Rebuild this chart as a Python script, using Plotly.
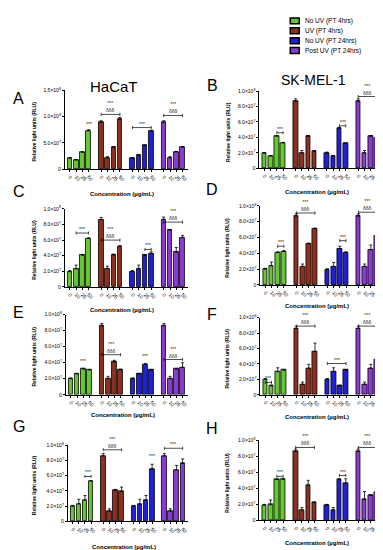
import plotly.graph_objects as go

W, H = 383, 550

series_names = ["No UV (PT 4hrs)", "UV (PT 4hrs)", "No UV (PT 24hrs)", "Post UV (PT 24hrs)"]
colors = ["#66c633", "#8e3020", "#2020d8", "#8a3cd0"]
conc_labels = ["0", "10", "25", "50"]

# values in units of 1e7 RLU; one list per group (4 concentrations each)
A_vals = [[2.1, 1.75, 3.2, 7.3], [8.9, 2.2, 4.2, 9.5], [2.1, 2.7, 4.5, 7.3], [8.9, 2.2, 3.3, 4.2]]
A_err = [[0.1, 0.1, 0.1, 0.2], [0.3, 0.2, 0.1, 0.3], [0.1, 0.1, 0.1, 0.1], [0.3, 0.2, 0.1, 0.1]]
B_vals = [[1.95, 1.6, 4.15, 3.3], [8.7, 2.0, 4.15, 2.2], [2.0, 1.6, 5.2, 3.2], [8.7, 2.0, 4.15, 3.9]]
B_err = [[0.1, 0.05, 0.1, 0.05], [0.3, 0.3, 0.1, 0.05], [0.1, 0.05, 0.1, 0.05], [0.3, 0.3, 0.1, 1.0]]
C_vals = [[1.95, 2.3, 4.05, 6.2], [8.6, 2.35, 4.1, 5.2], [1.95, 2.3, 4.05, 4.3], [8.65, 7.25, 4.45, 6.3]]
C_err = [[0.15, 0.5, 0.1, 0.1], [0.3, 0.3, 0.1, 0.1], [0.15, 0.5, 0.1, 0.2], [0.3, 0.1, 0.6, 0.3]]
D_vals = [[2.0, 2.4, 4.1, 4.25], [8.7, 2.35, 5.2, 7.1], [1.96, 2.35, 4.6, 4.1], [8.7, 2.35, 4.45, 6.25]]
D_err = [[0.1, 0.5, 0.1, 0.1], [0.3, 0.3, 0.1, 0.1], [0.1, 0.5, 0.3, 0.1], [0.3, 0.3, 0.6, 0.05]]
E_vals = [[2.0, 2.6, 3.2, 3.1], [8.6, 2.0, 4.1, 3.1], [2.0, 2.6, 3.8, 3.1], [8.6, 2.0, 3.2, 3.4]]
E_err = [[0.1, 0.05, 0.1, 0.05], [0.3, 0.3, 0.2, 0.1], [0.1, 0.05, 0.1, 0.05], [0.3, 0.3, 0.1, 0.6]]
F_vals = [[2.0, 1.15, 3.0, 3.2], [8.6, 1.35, 3.45, 5.6], [2.0, 3.0, 1.15, 3.2], [8.6, 1.35, 3.45, 4.6]]
F_err = [[0.1, 0.1, 0.5, 0.05], [0.3, 0.3, 0.5, 1.1], [0.1, 0.5, 0.1, 0.05], [0.3, 0.3, 0.5, 1.1]]
G_vals = [[2.0, 2.3, 2.8, 5.3], [8.6, 1.35, 4.1, 3.9], [2.0, 2.3, 2.8, 6.9], [8.6, 1.35, 6.75, 7.6]]
G_err = [[0.1, 0.6, 0.6, 0.05], [0.3, 0.3, 0.1, 0.6], [0.1, 0.6, 0.6, 0.6], [0.3, 0.3, 0.6, 0.6]]
H_vals = [[1.9, 1.95, 5.1, 5.15], [8.6, 1.3, 4.4, 2.2], [1.9, 1.3, 5.1, 4.6], [8.6, 2.6, 3.1, 3.55]]
H_err = [[0.1, 0.6, 0.05, 0.05], [0.3, 0.3, 0.6, 0.05], [0.1, 0.3, 0.05, 0.6], [0.3, 1.0, 0.1, 0.5]]

# significance marks: (group, first bar, last bar, y level, labels)  bracket if first != last
A_sig = [(0, 3, 3, 7.8, "***"), (1, 0, 3, 10.4, "***|δδδ"), (2, 0, 3, 7.9, "***"), (3, 0, 3, 10.2, "***|δδδ")]
B_sig = [(0, 2, 3, 4.6, "***"), (2, 2, 3, 5.5, "***"), (3, 0, 3, 9.3, "***|δδδ")]
C_sig = [(0, 1, 3, 6.9, "***"), (1, 0, 3, 6.0, "***|δδδ"), (2, 2, 3, 4.8, "***"), (3, 0, 3, 8.3, "***|δδδ")]
D_sig = [(0, 2, 3, 4.9, "***"), (1, 0, 3, 9.1, "***|δδδ"), (2, 2, 3, 5.6, "***"), (3, 0, 3, 9.2, "***|δδδ")]
E_sig = [(0, 2, 2, 3.7, "***"), (1, 0, 3, 5.0, "***|δδδ"), (2, 2, 2, 4.3, "***"), (3, 0, 3, 4.4, "***|δδδ")]
F_sig = [(0, 0, 1, 1.6, "***"), (1, 0, 3, 8.9, "***|δδδ"), (2, 0, 3, 4.05, "***"), (3, 0, 3, 8.9, "***|δδδ")]
G_sig = [(0, 2, 3, 5.9, "***"), (1, 0, 3, 9.4, "***|δδδ"), (2, 3, 3, 8.0, "***"), (3, 0, 3, 9.6, "***")]
H_sig = [(0, 2, 3, 5.5, "***"), (1, 0, 3, 9.1, "***|δδδ"), (2, 2, 3, 5.6, "***"), (3, 0, 3, 9.1, "***|δδδ")]

A_ticks = [0, 5, 10, 15]
A_ticktext = ["0", "5.0×10<sup>7</sup>", "1.0×10<sup>8</sup>", "1.5×10<sup>8</sup>"]
std_ticks = [0, 2, 4, 6, 8, 10]
std_ticktext = ["0", "2.0×10<sup>7</sup>", "4.0×10<sup>7</sup>", "6.0×10<sup>7</sup>",
                "8.0×10<sup>7</sup>", "1.0×10<sup>8</sup>"]

FONT = "Arial, Liberation Sans, sans-serif"

# panel boxes in pixels: x0, x1, ytop, ybottom ; x-title y
panels = [
    ("A", A_vals, A_err, A_sig, (57, 180, 80, 160), A_ticks, A_ticktext, 15, 185),
    ("B", B_vals, B_err, B_sig, (252, 375, 81, 159), std_ticks, std_ticktext, 10, 183),
    ("C", C_vals, C_err, C_sig, (57, 180, 200, 279), std_ticks, std_ticktext, 10, 302),
    ("D", D_vals, D_err, D_sig, (253, 375, 197, 277), std_ticks, std_ticktext, 10, 298),
    ("E", E_vals, E_err, E_sig, (58, 180, 307, 388), std_ticks, std_ticktext, 10, 408),
    ("F", F_vals, F_err, F_sig, (253, 375, 310, 388), std_ticks, std_ticktext, 10, 410),
    ("G", G_vals, G_err, G_sig, (60, 180, 439, 516), std_ticks, std_ticktext, 10, 542),
    ("H", H_vals, H_err, H_sig, (252, 375, 434, 515), std_ticks, std_ticktext, 10, 538),
]
letter_pos = {"A": (11, 88), "B": (205, 75), "C": (11, 182), "D": (205, 180),
              "E": (11, 305), "F": (205, 307), "G": (11, 420), "H": (205, 422)}

fig = go.Figure()
annotations = []
shapes = []
layout = {}


def px_x(p):
    return p / W


def px_y(p):
    return 1 - p / H


for k, (letter, vals, errs, sigs, box, ticks, ticktext, ymax, xt_y) in enumerate(panels):
    idx = "" if k == 0 else str(k + 1)
    xa, ya = "x" + idx, "y" + idx
    x0, x1, yt, yb = box
    tickvals, tlabels = [], []
    for g in range(4):
        xs = [g * 5 + i for i in range(4)]
        tickvals += xs
        tlabels += conc_labels
        fig.add_trace(go.Bar(
            x=xs, y=vals[g], width=0.74, xaxis=xa, yaxis=ya,
            marker=dict(color=colors[g], line=dict(color="black", width=0.8)),
            error_y=dict(type="data", array=errs[g], symmetric=False, arrayminus=[0] * 4,
                         color="black", thickness=0.8, width=1.5),
            name=series_names[g], showlegend=False))
    layout["xaxis" + idx] = dict(
        domain=[px_x(x0), px_x(x1)], anchor=ya, range=[-0.8, 18.8],
        tickvals=tickvals, ticktext=tlabels, tickangle=45,
        tickfont=dict(size=5, family=FONT, color="black"),
        showline=True, linecolor="black", linewidth=1, ticks="outside", ticklen=2,
        tickwidth=0.8, tickcolor="black", showgrid=False, zeroline=False, fixedrange=True)
    layout["yaxis" + idx] = dict(
        domain=[px_y(yb), px_y(yt)], anchor=xa, range=[0, ymax],
        tickvals=ticks, ticktext=ticktext,
        tickfont=dict(size=5, family=FONT, color="black"),
        showline=True, linecolor="black", linewidth=1, ticks="outside", ticklen=2,
        tickwidth=0.8, tickcolor="black", showgrid=False, zeroline=False, fixedrange=True)
    # significance brackets and stars
    for (g, b0, b1, yl, lab) in sigs:
        xa0, xa1 = g * 5 + b0, g * 5 + b1
        parts = lab.split("|")
        if b0 != b1:
            shapes.append(dict(type="line", xref=xa, yref=ya, x0=xa0, x1=xa1, y0=yl, y1=yl,
                               line=dict(color="black", width=0.7)))
            for xe in (xa0, xa1):
                shapes.append(dict(type="line", xref=xa, yref=ya, x0=xe, x1=xe,
                                   y0=yl - ymax * 0.02, y1=yl + ymax * 0.02,
                                   line=dict(color="black", width=0.7)))
        text = "<br>".join(parts)
        annotations.append(dict(x=(xa0 + xa1) / 2, y=yl, xref=xa, yref=ya, text=text,
                                showarrow=False, xanchor="center", yanchor="bottom", yshift=-1,
                                font=dict(size=5, color="#222222", family=FONT)))
    # axis titles
    annotations.append(dict(x=px_x((x0 + x1) / 2 - 4), y=px_y(xt_y), xref="paper", yref="paper",
                            text="<b>Concentration (µg/mL)</b>", showarrow=False,
                            xanchor="center", yanchor="middle",
                            font=dict(size=6, family=FONT, color="black")))
    ytx = 26 if x0 < 100 else 220
    annotations.append(dict(x=px_x(ytx), y=px_y((yt + yb) / 2 + 2), xref="paper", yref="paper",
                            text="<b>Relative light units (RLU)</b>", showarrow=False, textangle=-90,
                            xanchor="center", yanchor="middle",
                            font=dict(size=5, family=FONT, color="black")))
    lx, ly = letter_pos[letter]
    annotations.append(dict(x=px_x(lx), y=px_y(ly), xref="paper", yref="paper", text=letter,
                            showarrow=False, xanchor="center", yanchor="middle",
                            font=dict(size=16, family=FONT, color="black")))

# column titles
annotations.append(dict(x=px_x(106), y=px_y(76), xref="paper", yref="paper", text="HaCaT",
                        showarrow=False, xanchor="center", yanchor="middle",
                        font=dict(size=15, family=FONT, color="black")))
annotations.append(dict(x=px_x(306), y=px_y(70), xref="paper", yref="paper", text="SK-MEL-1",
                        showarrow=False, xanchor="center", yanchor="middle",
                        font=dict(size=14, family=FONT, color="black")))

# legend (drawn manually for compact spacing)
leg_y = [10, 20, 30, 40]
for name, c, yy in zip(series_names, colors, leg_y):
    shapes.append(dict(type="rect", xref="paper", yref="paper",
                       x0=px_x(283), x1=px_x(292), y0=px_y(yy + 3), y1=px_y(yy - 3),
                       fillcolor=c, line=dict(color="black", width=1.5)))
    annotations.append(dict(x=px_x(296), y=px_y(yy), xref="paper", yref="paper", text=name,
                            showarrow=False, xanchor="left", yanchor="middle",
                            font=dict(size=6.5, family=FONT, color="black")))

fig.update_layout(
    width=W, height=H, margin=dict(l=0, r=0, t=0, b=0),
    paper_bgcolor="white", plot_bgcolor="white", showlegend=False,
    bargap=0, annotations=annotations, shapes=shapes, **layout)

fig.write_html("out.html")
